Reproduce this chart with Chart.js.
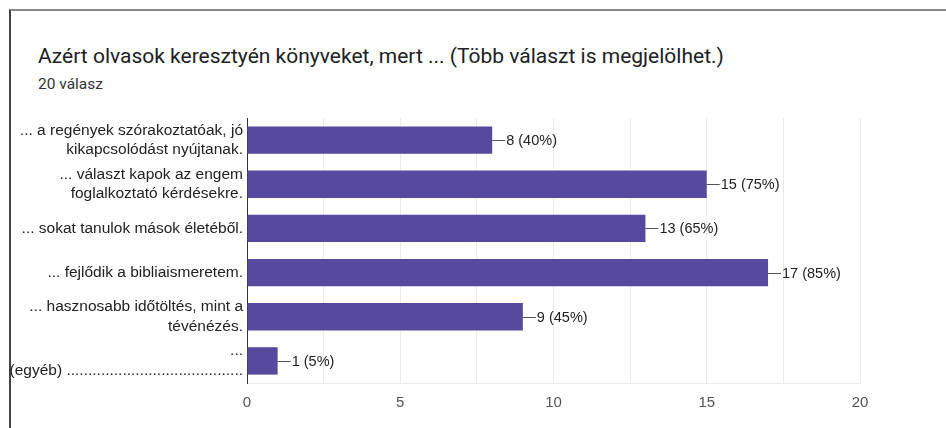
<!DOCTYPE html>
<html>
<head>
<meta charset="utf-8">
<script src="https://cdn.jsdelivr.net/npm/chart.js@4/dist/chart.umd.min.js"></script>
<style>
  html, body { margin: 0; padding: 0; background: #fff; }
  #wrap { position: relative; width: 946px; height: 428px; overflow: hidden; }
  #frame { position: absolute; left: 9px; top: 9px; right: 0; bottom: -2px;
    border-top: 2px solid #8a8a8a; border-left: 2px solid #444; }
  #title { position: absolute; left: 38px; top: 44px; font: 21px Roboto, sans-serif; color: #202124; }
  #sub { position: absolute; left: 38px; top: 75px; font: 15.5px Roboto, sans-serif; color: #333; }
  canvas { position: absolute; left: 0; top: 0; }
</style>
</head>
<body>
<div id="wrap">
  <div id="frame"></div>
  <div id="title">Azért olvasok keresztyén könyveket, mert ... (Több választ is megjelölhet.)</div>
  <div id="sub">20 válasz</div>
  <canvas id="chart" width="946" height="428"></canvas>
</div>
<script>
const categories = [
  ['... a regények szórakoztatóak, jó', 'kikapcsolódást nyújtanak.'],
  ['... választ kapok az engem', 'foglalkoztató kérdésekre.'],
  '... sokat tanulok mások életéből.',
  '... fejlődik a bibliaismeretem.',
  ['... hasznosabb időtöltés, mint a', 'tévénézés.'],
  ['...', '(egyéb) .........................................']
];
const counts = [8, 15, 13, 17, 9, 1];
const percents = [40, 75, 65, 85, 45, 5];
const tickLabels = [0, 5, 10, 15, 20];

const fontFamily = '"Liberation Sans", Arial, sans-serif';

const valueLabels = {
  id: 'valueLabels',
  afterDatasetsDraw(chart) {
    const ctx = chart.ctx;
    const meta = chart.getDatasetMeta(0);
    ctx.save();
    ctx.font = '14.5px ' + fontFamily;
    ctx.fillStyle = '#222';
    ctx.strokeStyle = '#555';
    ctx.lineWidth = 1;
    ctx.textBaseline = 'middle';
    meta.data.forEach((bar, i) => {
      const x = bar.x;
      const y = Math.round(bar.y) + 0.5;
      ctx.beginPath();
      ctx.moveTo(x, y);
      ctx.lineTo(x + 13, y);
      ctx.stroke();
      ctx.fillText(counts[i] + ' (' + percents[i] + '%)', x + 14, bar.y + 1);
    });
    ctx.restore();
  }
};

new Chart(document.getElementById('chart'), {
  type: 'bar',
  data: {
    labels: categories,
    datasets: [{
      data: counts,
      backgroundColor: '#56499e',
      categoryPercentage: 0.62,
      barPercentage: 1
    }]
  },
  options: {
    indexAxis: 'y',
    responsive: false,
    animation: false,
    layout: { padding: { left: 0, right: 86, top: 118, bottom: 0 } },
    plugins: { legend: { display: false }, tooltip: { enabled: false } },
    scales: {
      x: {
        min: 0,
        max: 20,
        ticks: {
          stepSize: 2.5,
          autoSkip: false,
          maxRotation: 0,
          padding: 11,
          color: '#555',
          font: { family: fontFamily, size: 15 },
          callback: (v) => tickLabels.includes(v) ? v : ''
        },
        grid: { color: '#ebebeb', drawTicks: false },
        border: { color: '#ebebeb' },
        afterFit: (s) => { s.height = 45; }
      },
      y: {
        ticks: {
          color: '#222',
          padding: 4,
          font: { family: fontFamily, size: 15.5, lineHeight: 1.27 }
        },
        grid: { display: false, drawTicks: false },
        border: { color: '#333', width: 1 },
        afterFit: (s) => { s.width = 247; }
      }
    }
  },
  plugins: [valueLabels]
});
</script>
</body>
</html>
